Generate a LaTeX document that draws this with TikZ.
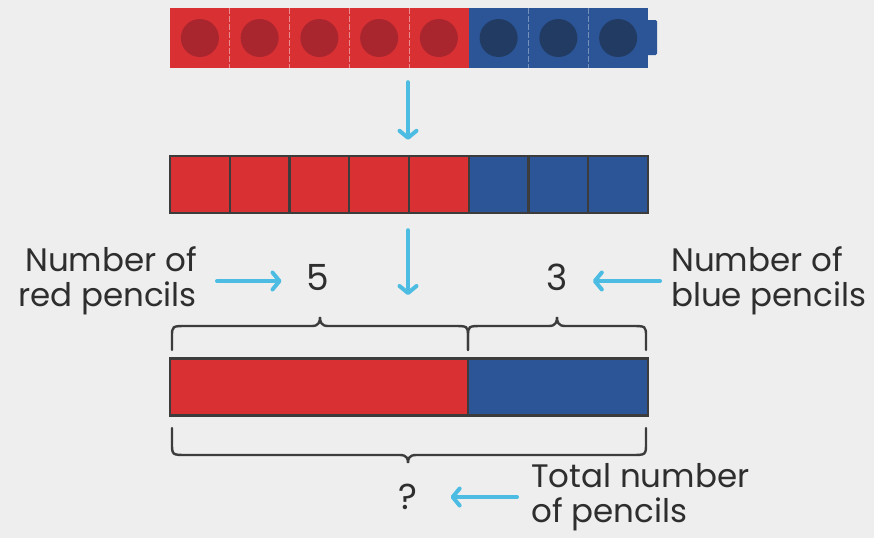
\documentclass[tikz,border=0pt]{standalone}
\usepackage{fontspec}
\setmainfont{Poppins}
\usetikzlibrary{arrows.meta}
\definecolor{bg}{HTML}{EEEEEE}
\definecolor{cred}{HTML}{D93034}
\definecolor{cdred}{HTML}{A9262F}
\definecolor{cblue}{HTML}{2B5597}
\definecolor{cdblue}{HTML}{223B63}
\definecolor{pointer}{HTML}{4CBCE2}
\definecolor{ink}{HTML}{2E2E2E}
\definecolor{edge}{HTML}{3C3C3C}
% brace: left x, tip x, right x, end y, line y, tip y
\newcommand{\pathbrace}[6]{%
  \draw[bracestyle] (#1,#4) -- (#1,{#5+(#4-#5)*0.45}) .. controls (#1,#5) .. ({#1+15},#5)
    -- ({#2-8},#5) .. controls ({#2-1},#5) and (#2,{#5+(#6-#5)/2}) .. (#2,#6)
    .. controls (#2,{#5+(#6-#5)/2}) and ({#2+1},#5) .. ({#2+8},#5)
    -- ({#3-15},#5) .. controls (#3,#5) .. (#3,{#5+(#4-#5)*0.45}) -- (#3,#4);}
\begin{document}
\begin{tikzpicture}[x=1pt,y=-1pt,
  lbl/.style={inner sep=0pt, text=ink, font=\fontsize{32.5}{35}\selectfont},
  num/.style={inner sep=0pt, text=ink, font=\fontsize{36}{36}\selectfont},
  pointarrow/.style={draw=pointer, line width=4pt, line cap=round,
    -{Straight Barb[length=7pt,width=17pt,round]}},
  bracestyle/.style={draw=edge, line width=2.4pt, line cap=round},
  cell/.style={draw=edge, line width=2.4pt, inner sep=0pt, minimum height=57pt},
]
\fill[bg] (0,0) rectangle (874,538);
\useasboundingbox (0,0) rectangle (874,538);

% linking cubes
\fill[cblue, rounded corners=1.5pt] (640,20) rectangle (657,55);
\foreach \i in {0,...,4} {
  \fill[cred] ({170+\i*59.75},8) rectangle ({170+(\i+1)*59.75},68);
  \fill[cdred] ({170+(\i+0.5)*59.75},38) circle (19);
}
\foreach \i in {5,6,7} {
  \fill[cblue] ({170+\i*59.75},8) rectangle ({170+(\i+1)*59.75},68);
  \fill[cdblue] ({170+(\i+0.5)*59.75},38) circle (19);
}
\foreach \i in {1,...,4}
  \draw[white, opacity=0.45, line width=1pt, dash pattern=on 6pt off 2pt]
    ({170+\i*59.75},8) -- ({170+\i*59.75},68);
\foreach \i in {6,7}
  \draw[white, opacity=0.35, line width=1pt, dash pattern=on 6pt off 2pt]
    ({170+\i*59.75},8) -- ({170+\i*59.75},68);
\node[inner sep=0pt, minimum width=478pt, minimum height=60pt] (cubes) at (409,38) {};

% bar of unit squares
\foreach \i in {0,...,4}
  \node[cell, fill=cred, minimum width=59.75pt] (r\i) at ({170+(\i+0.5)*59.75},184.5) {};
\foreach \i in {5,6,7}
  \node[cell, fill=cblue, minimum width=59.75pt] (b\i) at ({170+(\i+0.5)*59.75},184.5) {};
\node[inner sep=0pt, minimum width=478pt, minimum height=57pt] (units) at (409,184.5) {};

% bar model
\node[cell, fill=cred, minimum width=298pt] (redpart) at (319,387) {};
\node[cell, fill=cblue, minimum width=180pt] (bluepart) at (558,387) {};

% vertical arrows
\coordinate (step2) at (408,295);
\draw[pointarrow, shorten <=14pt, shorten >=16pt] (cubes.south -| step2) -- (units.north -| step2);
\draw[pointarrow, shorten <=17pt] (units.south -| step2) -- (step2);

% labels and numbers
\node[num] (five) at (318,277) {5};
\node[num] (three) at (557,277) {3};
\node[num] (total) at (408,497) {?};
\node[lbl, anchor=east, align=right] (redlbl) at (197,281) {Number of\\red pencils};
\node[lbl, anchor=west, align=left] (bluelbl) at (671,281) {Number of\\blue pencils};
\node[lbl, anchor=west, align=left] (totlbl) at (531,497) {Total number\\of pencils};

\draw[pointarrow, shorten <=20pt, shorten >=25pt] (redlbl.east) -- (redlbl.east -| five.west);
\draw[pointarrow, shorten <=11pt, shorten >=25pt] (bluelbl.west) -- (bluelbl.west -| three.east);
\draw[pointarrow, shorten <=14pt, shorten >=33pt] (totlbl.west) -- (totlbl.west -| total.east);

% braces
\pathbrace{172}{320}{468}{350}{326}{317}
\pathbrace{468}{557}{646}{350}{326}{317}
\pathbrace{172}{408}{646}{428}{455}{463}
\end{tikzpicture}
\end{document}
